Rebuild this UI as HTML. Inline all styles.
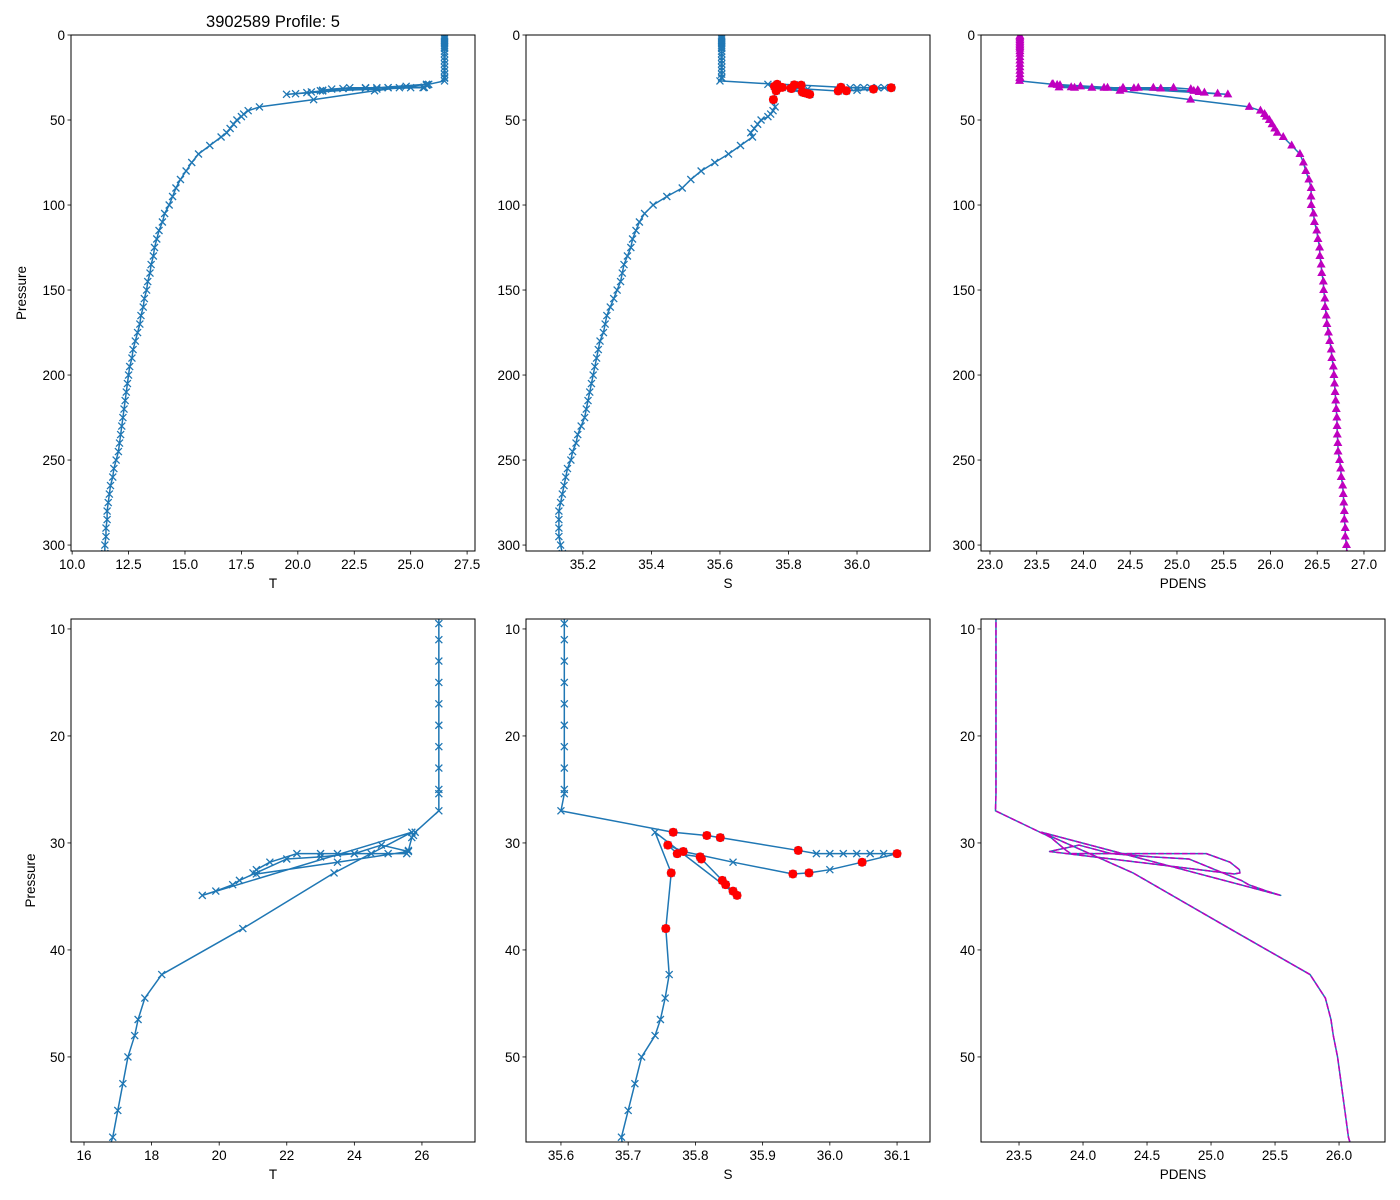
<!DOCTYPE html>
<html><head><meta charset="utf-8"><style>
body{margin:0;background:#fff;overflow:hidden;}
svg{display:block;font-family:"Liberation Sans","DejaVu Sans",sans-serif;}
</style></head><body>
<svg id="chart" width="1400" height="1200" viewBox="0 0 1400 1200">
<rect width="1400" height="1200" fill="#fff"/>
</svg>
<script>
// ---------- data ----------
const pres = [0.5,1,2,3,4,5,6,7,8,9.5,11,13,15,17,19,21,23,25,25.4,27,
 29.0,29.3,29.5,30.7,31.0,31.0,31.0,31.0,31.0,31.0,31.0,31.8,32.5,32.8,32.9,31.8,30.8,30.2,31.0,31.3,31.5,33.5,33.9,34.5,34.9,29.0,32.8,38.0,
 42.3,44.5,46.5,48,50,52.5,55,57.5,
 60,65,70,75,80,85,90,95,100,105,110,115,120,125,130,135,140,145,150,155,160,165,170,175,180,185,190,195,200,205,210,215,220,225,230,235,240,245,250,255,260,265,270,275,280,285,290,295,300,305];
const temp = [26.5,26.5,26.5,26.5,26.5,26.5,26.5,26.5,26.5,26.5,26.5,26.5,26.5,26.5,26.5,26.5,26.5,26.5,26.5,26.5,
 25.8,25.75,25.7,25.6,25.55,25.0,24.5,24.0,23.5,23.0,22.3,21.5,21.1,21.0,21.1,23.5,25.6,24.8,24.0,23.0,22.0,20.6,20.4,19.9,19.5,25.7,23.4,20.7,
 18.3,17.8,17.6,17.5,17.3,17.15,17.0,16.85,
 16.6,16.1,15.6,15.3,15.05,14.8,14.6,14.45,14.3,14.1,14.0,13.85,13.75,13.65,13.6,13.5,13.45,13.35,13.3,13.2,13.15,13.05,13.0,12.9,12.8,12.7,12.65,12.55,12.5,12.45,12.4,12.35,12.3,12.25,12.2,12.15,12.1,12.05,11.95,11.85,11.8,11.7,11.65,11.6,11.55,11.55,11.5,11.5,11.45,11.45];
const sal = [35.605,35.605,35.605,35.605,35.605,35.605,35.605,35.605,35.605,35.605,35.605,35.605,35.605,35.605,35.605,35.605,35.605,35.605,35.605,35.6,
 35.767,35.817,35.837,35.953,35.98,36.0,36.02,36.04,36.06,36.08,36.10,36.048,36.0,35.969,35.945,35.856,35.782,35.759,35.773,35.807,35.809,35.84,35.845,35.856,35.862,35.74,35.764,35.756,
 35.761,35.755,35.748,35.74,35.72,35.71,35.70,35.69,
 35.695,35.66,35.625,35.585,35.545,35.515,35.49,35.445,35.405,35.38,35.365,35.355,35.345,35.34,35.33,35.32,35.315,35.31,35.3,35.29,35.28,35.27,35.265,35.26,35.25,35.245,35.24,35.235,35.23,35.225,35.22,35.215,35.21,35.205,35.195,35.185,35.18,35.17,35.165,35.155,35.15,35.145,35.14,35.135,35.13,35.13,35.13,35.13,35.135,35.14];
const redIdx = [20,21,22,23,30,31,33,34,36,37,38,39,40,41,42,43,44,46,47];
const tTicks = [10.0,12.5,15.0,17.5,20.0,22.5,25.0,27.5];
const sTicks = [35.2,35.4,35.6,35.8,36.0];
const dTicks = [23.0,23.5,24.0,24.5,25.0,25.5,26.0,26.5,27.0];
const pTicks = [0,50,100,150,200,250,300];
const tTicks2 = [16,18,20,22,24,26];
const sTicks2 = [35.6,35.7,35.8,35.9,36.0,36.1];
const dTicks2 = [23.5,24.0,24.5,25.0,25.5,26.0];
const pTicks2 = [10,20,30,40,50];

// approximate potential density anomaly from T,S
function sigma(T,S){return 28.359-0.09562*T-0.004222*T*T+0.76*(S-35);}
const pdens = temp.map((t,i)=>sigma(t,sal[i]));

// ---------- drawing ----------
const svg=document.getElementById('chart');
const NS='http://www.w3.org/2000/svg';
function el(tag,attrs,parent){const e=document.createElementNS(NS,tag);for(const k in attrs)e.setAttribute(k,attrs[k]);(parent||svg).appendChild(e);return e;}
const BLUE='#1f77b4';
let clipN=0;
function panel(o){
  const g=el('g',{});
  
  
  const W=o.x1-o.x0,H=o.y1-o.y0;
  const sx=v=>o.x0+(v-o.xmin)/(o.xmax-o.xmin)*W;
  const sy=v=>o.y0+(v-o.ymin)/(o.ymax-o.ymin)*H;
  const cid='clip'+(clipN++);
  const cp=el('clipPath',{id:cid},g);el('rect',{x:o.x0,y:o.y0,width:W,height:H},cp);
  const plot=el('g',{'clip-path':'url(#'+cid+')'},g);
  
  
  const xs=o.xs, ps=pres;
  const pts=xs.map((v,i)=>sx(v).toFixed(2)+','+sy(ps[i]).toFixed(2)).join(' ');
  const line=el('polyline',{points:pts,fill:'none',stroke:BLUE,'stroke-width':1.5,'stroke-linejoin':'round'},plot);
  
  
  if(o.dashed){
    const d=el('polyline',{points:pts,fill:'none',stroke:'#bf00bf','stroke-width':1.5,'stroke-dasharray':'5.5,2.4'},plot);
    
    
  }
  if(o.xmark){
    xs.forEach((v,i)=>{const x=sx(v),y=sy(ps[i]),r=3.5;
      const m=el('path',{d:`M${x-r},${y-r}L${x+r},${y+r}M${x-r},${y+r}L${x+r},${y-r}`,stroke:BLUE,'stroke-width':1.3,fill:'none'},plot);
      
      });
  }
  if(o.red){
    redIdx.forEach(i=>{const c=el('circle',{cx:sx(xs[i]),cy:sy(ps[i]),r:4.5,fill:'#ff0000'},plot);
      
      });
  }
  if(o.tri){
    xs.forEach((v,i)=>{const x=sx(v),y=sy(ps[i]);
      const t=el('path',{d:`M${x},${y-5}L${x+4.5},${y+3}L${x-4.5},${y+3}Z`,fill:'#bf00bf'},plot);
      
      });
  }
  const fr=el('rect',{x:o.x0,y:o.y0,width:W,height:H,fill:'none',stroke:'#000','stroke-width':1},g);
  
  
  o.xt.forEach(v=>{const x=sx(v);
    el('line',{x1:x,x2:x,y1:o.y1,y2:o.y1+3.5,stroke:'#000','stroke-width':0.8},g);
    const t=el('text',{x:x,y:o.y1+18,'text-anchor':'middle','font-size':'13.5px'},g);
    t.textContent=v.toFixed(o.xdec);
    
    });
  o.yt.forEach(v=>{const y=sy(v);
    el('line',{x1:o.x0-3.5,x2:o.x0,y1:y,y2:y,stroke:'#000','stroke-width':0.8},g);
    const t=el('text',{x:o.x0-6,y:y+5,'text-anchor':'end','font-size':'13.5px'},g);
    t.textContent=v;
    
    });
  const xl=el('text',{x:(o.x0+o.x1)/2,y:o.y1+37,'text-anchor':'middle','font-size':'13.5px'},g);
  xl.textContent=o.xlabel;
  
  
  if(o.ylabel){
    const yx=o.ylx,yy=(o.y0+o.y1)/2;
    const yl=el('text',{x:yx,y:yy,'text-anchor':'middle','font-size':'13.5px',transform:`rotate(-90 ${yx} ${yy})`},g);
    yl.textContent=o.ylabel;
    
    
  }
}
const topRow={y0:35,y1:551,ymin:0,ymax:303.5,yt:pTicks};
const botRow={y0:619,y1:1142,ymin:9.07,ymax:57.95,yt:pTicks2};
panel(Object.assign({name:'temperature-full',x0:71,x1:475,xmin:9.95,xmax:27.85,xs:temp,xt:tTicks,xdec:1,xlabel:'T',xmark:true,ylabel:'Pressure',ylx:26},topRow));
panel(Object.assign({name:'salinity-full',x0:526,x1:930,xmin:35.034,xmax:36.213,xs:sal,xt:sTicks,xdec:1,xlabel:'S',xmark:true,red:true},topRow));
panel(Object.assign({name:'density-full',x0:981,x1:1385,xmin:22.904,xmax:27.225,xs:pdens,xt:dTicks,xdec:1,xlabel:'PDENS',tri:true},topRow));
panel(Object.assign({name:'temperature-zoom',x0:71,x1:475,xmin:15.615,xmax:27.57,xs:temp,xt:tTicks2,xdec:0,xlabel:'T',xmark:true,ylabel:'Pressure',ylx:35},botRow));
panel(Object.assign({name:'salinity-zoom',x0:526,x1:930,xmin:35.548,xmax:36.149,xs:sal,xt:sTicks2,xdec:1,xlabel:'S',xmark:true,red:true},botRow));
panel(Object.assign({name:'density-zoom',x0:981,x1:1385,xmin:23.203,xmax:26.359,xs:pdens,xt:dTicks2,xdec:1,xlabel:'PDENS',dashed:true},botRow));
const title=el('text',{x:273,y:27,'text-anchor':'middle','font-size':'16.5px'});
title.textContent='3902589 Profile: 5';


</script>
</body></html>
